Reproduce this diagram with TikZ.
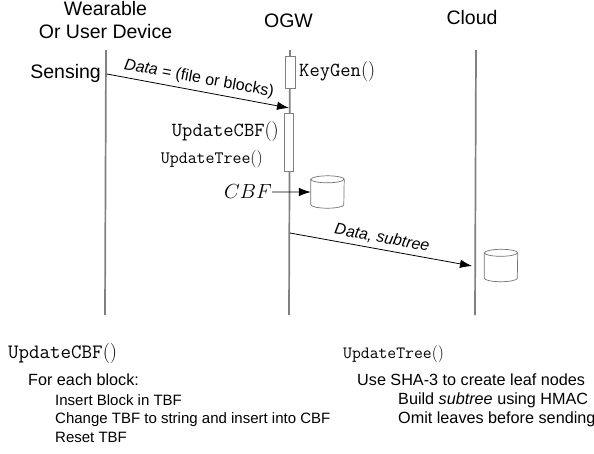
\documentclass[tikz,border=0pt]{standalone}
\usepackage{fontspec}
\setmainfont{Liberation Sans}
\setmonofont{Latin Modern Mono}
\newfontfamily\lmr{Latin Modern Roman}
\usetikzlibrary{arrows.meta}
\tikzset{
  life/.style={draw=black!50,line width=1.7pt},
  act/.style={draw=black!50,fill=white,line width=0.7pt,minimum width=9.5pt,inner sep=0pt,anchor=north},
  msg/.style={draw=black,line width=0.8pt,-{Latex[length=12pt,width=8.5pt]}},
  store/.style={rectangle,minimum width=33pt,minimum height=32pt,inner sep=0pt},
  storeline/.style={draw=black!55,line width=0.7pt,fill=white},
  head/.style={font=\fontsize{19.5}{22}\selectfont,inner sep=0pt,align=center},
  code/.style={font=\fontsize{20}{22}\selectfont,inner sep=0pt},
  lab/.style={font=\fontsize{16}{18}\selectfont\itshape,inner sep=0pt},
  body/.style={font=\fontsize{16.2}{18}\selectfont,inner sep=0pt,anchor=base west},
  small/.style={font=\fontsize{15}{17}\selectfont,inner sep=0pt,anchor=base west},
}
\newcommand{\fn}[1]{\texttt{#1}{\lmr()}}
\newcommand{\cyl}[1]{%
  \draw[storeline] ([yshift=-3.5pt]#1.north west) -- ([yshift=3.5pt]#1.south west)
    arc[start angle=180,end angle=360,x radius=16.5pt,y radius=3.5pt]
    -- ([yshift=-3.5pt]#1.north east)
    arc[start angle=0,end angle=180,x radius=16.5pt,y radius=3.5pt] -- cycle;
  \draw[storeline,fill=none] ([yshift=-3.5pt]#1.north west)
    arc[start angle=180,end angle=360,x radius=16.5pt,y radius=3.5pt];
}
\begin{document}
\begin{tikzpicture}[x=1pt,y=-1pt]
\useasboundingbox (0,0) rectangle (594,453);
\node[head] (wl1) at (105.5,9) {Wearable};
\node[head] (wl2) at (105.5,32) {Or User Device};
\node[head] (ogw) at (288.5,21) {OGW};
\node[head] (cloud) at (472,18) {Cloud};
\node[head,anchor=east] (sensing) at (101,73) {Sensing};
\coordinate (l1t) at (106,50); \coordinate (l1b) at (105,315);
\coordinate (l2t) at (290,50); \coordinate (l2b) at (289,315);
\coordinate (l3t) at (476,50); \coordinate (l3b) at (475,315);
\draw[life] (l1t) -- (l1b);
\draw[life] (l2t) -- (l2b);
\draw[life] (l3t) -- (l3b);
\node[act,minimum height=32pt] (keygen) at (290.5,55.5) {};
\node[act,minimum height=58pt] (update) at (289,112.5) {};
\node[code,anchor=west] (kg) at (299,72) {\fn{KeyGen}};
\node[code,anchor=east] (ucbf) at (279,132) {\fn{UpdateCBF}};
\node[code,anchor=east,font=\fontsize{17.4}{20}\selectfont] (utree) at (263,159) {\fn{UpdateTree}};
\node[store] (db1) at (327.5,192) {};
\node[store] (db2) at (501,265.5) {};
\cyl{db1}
\cyl{db2}
\node[inner sep=0pt,anchor=east,font=\fontsize{16}{18}\selectfont,scale=1.18] (cbf) at (272,192) {$CBF$};
\draw[msg] (cbf) -- (db1);
\coordinate (d1s) at (107,74); \coordinate (d1e) at (289,108);
\coordinate (d2s) at (290,233); \coordinate (d2e) at (472,266);
\draw[msg] (d1s) -- (d1e);
\draw[msg] (d2s) -- (d2e);
\node[lab,rotate=-10.5] (dl1) at (199,79) {Data {\upshape = (file or blocks)}};
\node[lab,rotate=-10.5] (dl2) at (382,238) {Data, subtree};
\node[code,anchor=base west,font=\fontsize{20.4}{22}\selectfont] (t1) at (8,358) {\fn{UpdateCBF}};
\node[body] (t2) at (28,385) {For each block:};
\node[small] (t3) at (55,405) {Insert Block in TBF};
\node[small] (t4) at (55,423) {Change TBF to string and insert into CBF};
\node[small] (t5) at (55,442) {Reset TBF};
\node[font=\fontsize{17.2}{20}\selectfont,inner sep=0pt,anchor=base west] (r1) at (343,358) {\fn{UpdateTree}};
\node[body] (r2) at (357,385) {Use SHA-3 to create leaf nodes};
\node[body] (r3) at (398,404) {Build \textit{subtree} using HMAC};
\node[body] (r4) at (398,423) {Omit leaves before sending};
\end{tikzpicture}
\end{document}
